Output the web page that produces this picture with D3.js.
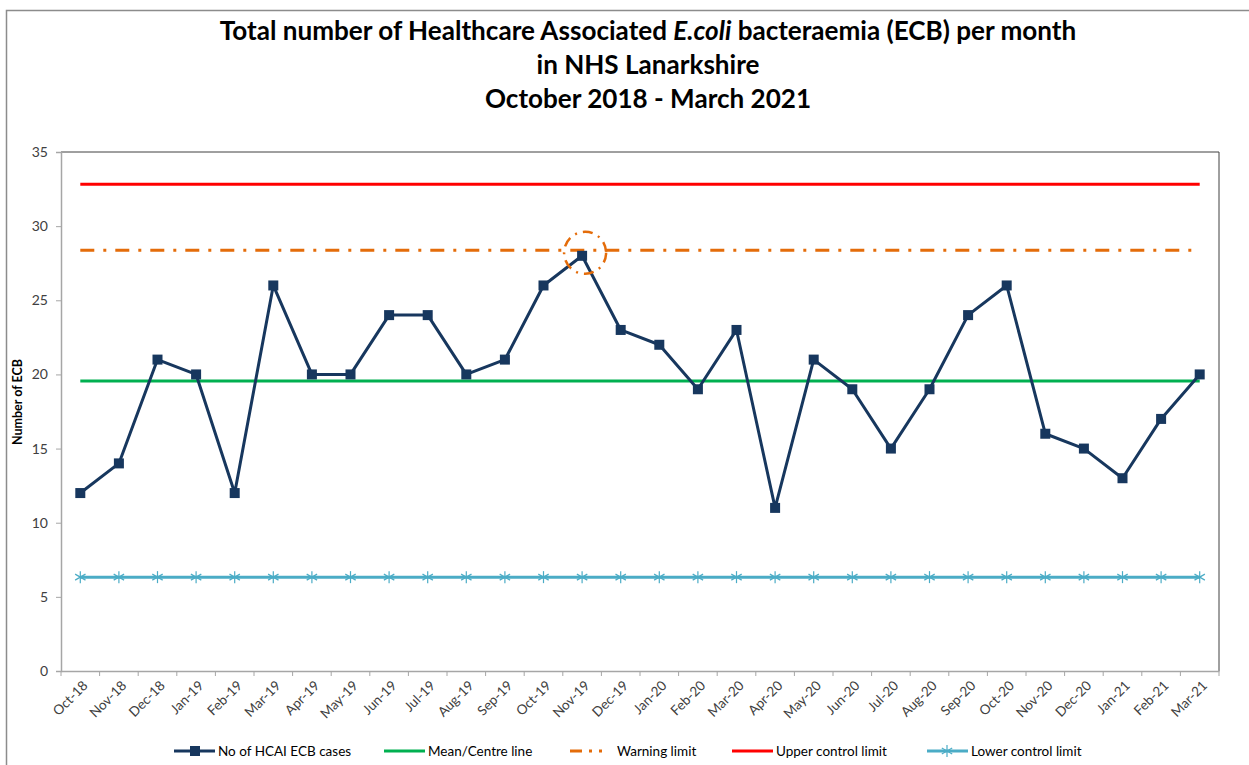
<!DOCTYPE html>
<html><head><meta charset="utf-8">
<script src="https://cdn.jsdelivr.net/npm/d3@7"></script>
<style>body{margin:0;background:#fff}svg{display:block;font-family:Lato,"Open Sans",sans-serif}</style>
</head><body><svg id="c" width="1249" height="765"></svg>
<script>
const months = ["Oct-18","Nov-18","Dec-18","Jan-19","Feb-19","Mar-19","Apr-19","May-19","Jun-19","Jul-19","Aug-19","Sep-19","Oct-19","Nov-19","Dec-19","Jan-20","Feb-20","Mar-20","Apr-20","May-20","Jun-20","Jul-20","Aug-20","Sep-20","Oct-20","Nov-20","Dec-20","Jan-21","Feb-21","Mar-21"];
const cases = [12,14,21,20,12,26,20,20,24,24,20,21,26,28,23,22,19,23,11,21,19,15,19,24,26,16,15,13,17,20];
const meanLine = 19.55;
const warningLimit = 28.38;
const upperLimit = 32.83;
const lowerLimit = 6.33;
const yTicks = [0,5,10,15,20,25,30,35];
const highlighted = ["Nov-19"];
const legendLabels = ["No of HCAI ECB cases","Mean/Centre line","Warning limit","Upper control limit","Lower control limit"];

const svg = d3.select("#c");
const L = 61, R = 1219, T = 152, B = 671;
const x = d3.scaleBand().domain(months).range([L, R]);
const y = d3.scaleLinear().domain([0, 35]).range([B, T]);
const cx = d => x(d) + x.bandwidth() / 2;

// outer border
svg.append("rect").attr("x", 6.5).attr("y", 10.5).attr("width", 1260).attr("height", 800)
  .attr("fill", "none").attr("stroke", "#8c8c8c").attr("stroke-width", 1.5);

// title
const title = svg.append("text").attr("text-anchor", "middle").attr("font-weight", "bold")
  .attr("fill", "#000").attr("font-size", 22);
const t1 = title.append("tspan").attr("x", 648).attr("y", 40);
t1.append("tspan").text("Total number of Healthcare Associated ");
t1.append("tspan").attr("font-style", "italic").text("E.coli");
t1.append("tspan").text(" bacteraemia (ECB) per month");
title.append("tspan").attr("x", 648).attr("y", 74).text("in NHS Lanarkshire");
title.append("tspan").attr("x", 648).attr("y", 108).text("October 2018 - March 2021");
const w = t1.node().getComputedTextLength();
title.attr("font-size", 22 * 857 / w);

// plot frame top/right
svg.append("path").attr("d", `M${L},${T}H${R}V${B}`).attr("fill", "none").attr("stroke", "#404040").attr("stroke-width", 1);

// y axis
const ya = svg.append("g").attr("transform", `translate(${L},0)`)
  .call(d3.axisLeft(y).tickValues(yTicks).tickSize(5).tickPadding(8));
ya.select(".domain").attr("stroke", "#a6a6a6").attr("stroke-width", 1.5);
ya.selectAll(".tick line").attr("stroke", "#a6a6a6");
ya.selectAll("text").attr("font-size", 14).attr("fill", "#404040").attr("font-family", "Lato, sans-serif");

// x axis
const xa = svg.append("g").attr("transform", `translate(0,${B})`)
  .call(d3.axisBottom(x).tickSize(0).tickFormat(""));
xa.select(".domain").attr("stroke", "#a6a6a6").attr("stroke-width", 1.5);
xa.selectAll(".tick").remove();
const bounds = months.map(m => x(m)).concat([R]);
svg.append("g").selectAll("line").data(bounds).join("line")
  .attr("x1", d => d).attr("x2", d => d).attr("y1", B).attr("y2", B + 5)
  .attr("stroke", "#a6a6a6");
svg.append("g").selectAll("text").data(months).join("text")
  .attr("transform", d => `translate(${cx(d) + 5},${B + 12}) rotate(-45)`)
  .attr("text-anchor", "end").attr("font-size", 13.5).attr("fill", "#404040")
  .attr("dy", "0.35em").text(d => d);

// y title
svg.append("text").attr("transform", `translate(22,${402}) rotate(-90)`)
  .attr("text-anchor", "middle").attr("font-weight", "bold").attr("font-size", 12.5)
  .attr("fill", "#000").text("Number of ECB");

const lineX1 = cx(months[0]), lineX2 = cx(months[months.length - 1]);
const hline = (v, color, dash) => svg.append("line")
  .attr("x1", lineX1).attr("x2", lineX2).attr("y1", y(v)).attr("y2", y(v))
  .attr("stroke", color).attr("stroke-width", 3).attr("stroke-dasharray", dash || null);

const colUCL = "#ff0000", colWarn = "#e46c0a", colMean = "#00b050", colLCL = "#4bacc6", colData = "#17375e";
hline(upperLimit, colUCL);
hline(warningLimit, colWarn, "14,9,3,9");
hline(meanLine, colMean);
hline(lowerLimit, colLCL);

// star marker
const star = (g, px, py, s, color) => {
  [0, 60, 120].forEach(deg => {
    const r = deg * Math.PI / 180;
    g.append("line").attr("x1", px - s * Math.sin(r)).attr("x2", px + s * Math.sin(r))
      .attr("y1", py - s * Math.cos(r)).attr("y2", py + s * Math.cos(r))
      .attr("stroke", color).attr("stroke-width", 1.2);
  });
};
const sg = svg.append("g");
months.forEach(m => star(sg, cx(m), y(lowerLimit), 6, colLCL));

// data line
const line = d3.line().x((d, i) => cx(months[i])).y(d => y(d));
svg.append("path").datum(cases).attr("d", line).attr("fill", "none")
  .attr("stroke", colData).attr("stroke-width", 3).attr("stroke-linejoin", "round");
svg.append("g").selectAll("rect").data(cases).join("rect")
  .attr("x", (d, i) => cx(months[i]) - 5).attr("y", d => y(d) - 5)
  .attr("width", 10).attr("height", 10).attr("fill", colData);

// highlight circle
highlighted.forEach(m => {
  const i = months.indexOf(m);
  svg.append("circle").attr("cx", cx(m) + 3).attr("cy", y(cases[i]) - 3).attr("r", 21)
    .attr("fill", "none").attr("stroke", colWarn).attr("stroke-width", 2.5)
    .attr("stroke-dasharray", "10,6,2,6");
});

// legend
const ly = 751;
const leg = svg.append("g").attr("font-size", 13.5);
const items = [
  {x: 174, color: colData, type: "square"},
  {x: 384, color: colMean},
  {x: 570, color: colWarn, type: "dash"},
  {x: 732, color: colUCL},
  {x: 927, color: colLCL, type: "star"}
];
items.forEach((it, k) => {
  const g = leg.append("g");
  const len = it.type === "dash" ? 38 : 41;
  g.append("line").attr("x1", it.x).attr("x2", it.x + len).attr("y1", ly).attr("y2", ly)
    .attr("stroke", it.color).attr("stroke-width", 3)
    .attr("stroke-dasharray", it.type === "dash" ? "12,7,3,7,3,7" : null);
  if (it.type === "square") g.append("rect").attr("x", it.x + 16).attr("y", ly - 5).attr("width", 10).attr("height", 10).attr("fill", it.color);
  if (it.type === "star") star(g, it.x + 20, ly, 6, it.color);
  g.append("text").attr("x", it.x + len + (it.type === "dash" ? 9 : 3)).attr("y", ly).attr("dy", "0.35em")
    .attr("fill", "#000").text(legendLabels[k]);
});
</script></body></html>
